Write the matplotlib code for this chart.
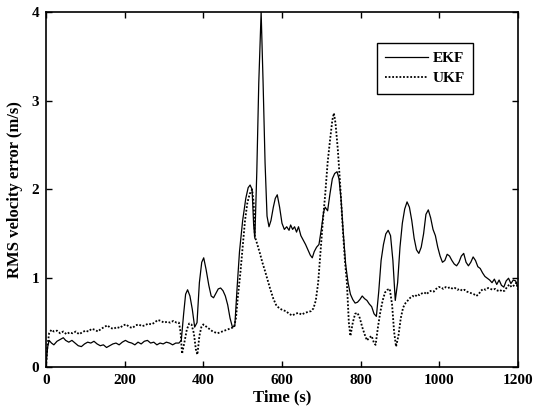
import numpy as np
import matplotlib
matplotlib.use('Agg')
import matplotlib.pyplot as plt

# values
ekf_t = [0, 4, 8, 14, 20, 28, 36, 44, 50, 58, 66, 74, 82, 90, 98, 106, 114, 122, 130, 138,
         146, 154, 162, 170, 178, 186, 194, 202, 210, 218, 226, 234, 242, 250, 258, 266, 274,
         282, 290, 298, 306, 314, 322, 330, 338, 344, 350, 355, 360, 366, 372, 378, 384, 390,
         396, 401, 407, 414, 420, 426, 432, 438, 444, 450, 456, 462, 468, 474, 480, 486, 492,
         500, 508, 514, 519, 524, 528, 531, 536, 541, 547, 552, 557, 562, 567, 572, 578, 583,
         588, 594, 600, 606, 612, 618, 622, 627, 632, 637, 642, 648, 654, 660, 666, 672, 677,
         682, 688, 694, 700, 706, 710, 716, 722, 728, 734, 740, 745, 750, 756, 762, 768, 774,
         780, 786, 792, 798, 804, 810, 816, 822, 828, 834, 840, 846, 852, 858, 864, 870, 876,
         882, 888, 894, 900, 906, 912, 918, 924, 930, 936, 942, 948, 954, 960, 966, 972, 978,
         984, 990, 996, 1002, 1008, 1014, 1020, 1026, 1032, 1038, 1044, 1050, 1056, 1062, 1068,
         1074, 1080, 1086, 1092, 1098, 1104, 1110, 1116, 1122, 1128, 1134, 1140, 1146, 1152,
         1158, 1164, 1170, 1176, 1182, 1188, 1194, 1200]
ekf_rms = [0.0, 0.22, 0.3, 0.27, 0.25, 0.29, 0.31, 0.33, 0.3, 0.28, 0.3, 0.27, 0.24, 0.23, 0.26,
           0.28, 0.27, 0.29, 0.26, 0.24, 0.25, 0.22, 0.24, 0.26, 0.27, 0.25, 0.28, 0.3, 0.28,
           0.27, 0.25, 0.28, 0.26, 0.29, 0.3, 0.27, 0.28, 0.25, 0.27, 0.26, 0.28, 0.27, 0.25,
           0.27, 0.27, 0.3, 0.6, 0.82, 0.87, 0.8, 0.65, 0.45, 0.5, 0.95, 1.18, 1.23, 1.1, 0.92,
           0.8, 0.78, 0.83, 0.88, 0.89, 0.86, 0.8, 0.7, 0.55, 0.45, 0.46, 0.9, 1.3, 1.65, 1.9,
           2.02, 2.05, 2.0, 1.6, 1.45, 2.2, 3.2, 4.0, 3.2, 2.3, 1.7, 1.58, 1.65, 1.8, 1.9, 1.94,
           1.8, 1.62, 1.55, 1.58, 1.54, 1.6, 1.55, 1.58, 1.52, 1.58, 1.48, 1.43, 1.38, 1.32,
           1.26, 1.23, 1.3, 1.35, 1.38, 1.55, 1.75, 1.8, 1.76, 1.95, 2.12, 2.18, 2.2, 2.12, 1.9,
           1.5, 1.15, 0.95, 0.82, 0.76, 0.72, 0.73, 0.76, 0.8, 0.77, 0.75, 0.71, 0.68, 0.6, 0.57,
           0.85, 1.2, 1.38, 1.5, 1.54, 1.48, 1.2, 0.75, 0.95, 1.35, 1.62, 1.78, 1.86, 1.8, 1.65,
           1.45, 1.32, 1.28, 1.35, 1.5, 1.72, 1.77, 1.68, 1.55, 1.48, 1.35, 1.25, 1.18, 1.2,
           1.27, 1.25, 1.2, 1.16, 1.14, 1.18, 1.25, 1.28, 1.18, 1.14, 1.18, 1.24, 1.2, 1.13,
           1.11, 1.06, 1.02, 1.0, 0.98, 0.95, 0.99, 0.93, 0.98, 0.92, 0.9, 0.97, 1.0, 0.94,
           0.98, 0.97, 0.9]

ukf_t = [0, 4, 8, 14, 20, 28, 36, 44, 52, 60, 68, 76, 84, 92, 100, 108, 116, 124, 132, 140,
         148, 156, 164, 172, 180, 188, 196, 204, 212, 220, 228, 236, 244, 252, 260, 268, 276,
         284, 292, 300, 308, 316, 324, 332, 338, 342, 346, 352, 358, 364, 370, 376, 381, 385,
         390, 395, 400, 406, 412, 418, 424, 430, 436, 442, 448, 454, 460, 466, 472, 478, 483,
         488, 494, 500, 506, 512, 518, 524, 528, 531, 536, 544, 550, 557, 564, 570, 578, 586,
         594, 602, 610, 618, 626, 634, 642, 650, 658, 666, 674, 680, 686, 692, 698, 704, 710,
         716, 722, 728, 732, 736, 742, 748, 754, 760, 765, 770, 774, 780, 786, 792, 798, 804,
         810, 816, 822, 828, 834, 838, 844, 850, 856, 862, 868, 874, 880, 885, 890, 896, 902,
         908, 914, 920, 926, 932, 938, 944, 950, 956, 962, 968, 974, 980, 986, 992, 998, 1004,
         1010, 1016, 1022, 1028, 1034, 1040, 1046, 1052, 1058, 1064, 1070, 1076, 1082, 1088,
         1094, 1100, 1106, 1112, 1118, 1124, 1130, 1136, 1142, 1148, 1154, 1160, 1166, 1172,
         1178, 1184, 1190, 1196, 1200]
ukf_rms = [0.0, 0.25, 0.38, 0.42, 0.4, 0.41, 0.38, 0.4, 0.37, 0.39, 0.38, 0.4, 0.37, 0.39,
           0.41, 0.4, 0.43, 0.42, 0.4, 0.43, 0.45, 0.47, 0.44, 0.43, 0.45, 0.44, 0.47, 0.48,
           0.45, 0.44, 0.47, 0.48, 0.46, 0.47, 0.49, 0.48, 0.5, 0.53, 0.52, 0.5, 0.51, 0.5,
           0.52, 0.5, 0.5, 0.4, 0.15, 0.28, 0.42, 0.49, 0.48, 0.38, 0.2, 0.14, 0.35, 0.45, 0.48,
           0.46, 0.44, 0.42, 0.4, 0.39, 0.38, 0.39, 0.4, 0.41, 0.42, 0.43, 0.44, 0.45, 0.55,
           0.8, 1.05, 1.35, 1.65, 1.85, 1.95, 2.0, 1.85, 1.47, 1.4, 1.28, 1.18, 1.08, 0.97, 0.88,
           0.77, 0.69, 0.66, 0.64, 0.63, 0.6, 0.58, 0.6, 0.61, 0.59, 0.61, 0.62, 0.63, 0.66,
           0.75, 0.95, 1.3, 1.65, 1.95, 2.3, 2.55, 2.78, 2.86, 2.75, 2.45, 2.05, 1.6, 1.2, 0.95,
           0.5, 0.35, 0.5, 0.6, 0.61, 0.55, 0.45, 0.37, 0.3, 0.33, 0.35, 0.27, 0.25, 0.45, 0.62,
           0.75, 0.84, 0.87, 0.88, 0.7, 0.4, 0.23, 0.35, 0.55, 0.67, 0.72, 0.75, 0.78, 0.8,
           0.79, 0.82, 0.81, 0.83, 0.84, 0.82, 0.85, 0.86, 0.85, 0.88, 0.9, 0.9, 0.88, 0.9,
           0.89, 0.9, 0.88, 0.89, 0.87, 0.88, 0.86, 0.87, 0.85, 0.84, 0.83, 0.82, 0.8, 0.82,
           0.86, 0.88, 0.87, 0.89, 0.88, 0.87, 0.88, 0.86, 0.87, 0.85, 0.86, 0.9, 0.93, 0.9,
           0.92, 0.95, 0.87]

x_ticks = [0, 200, 400, 600, 800, 1000, 1200]
y_ticks = [0, 1, 2, 3, 4]


def main():
    plt.rcParams['font.family'] = ['Liberation Serif', 'DejaVu Serif']
    fig = plt.figure(figsize=(5.39, 4.11), dpi=100)
    ax = fig.add_axes([0.0853, 0.107, 0.8757, 0.864])

    ax.plot(ekf_t, ekf_rms, color='black', lw=0.9, ls='-', label='EKF')
    ax.plot(ukf_t, ukf_rms, color='black', lw=1.3, ls=(0, (1, 1)), label='UKF')

    ax.set_xlim(0, 1200)
    ax.set_ylim(0, 4)
    ax.set_xticks(x_ticks)
    ax.set_yticks(y_ticks)
    ax.tick_params(direction='in', top=True, right=True, length=4, width=1,
                   labelsize=11, pad=5)
    for lbl in ax.get_xticklabels() + ax.get_yticklabels():
        lbl.set_fontweight('bold')
    for sp in ax.spines.values():
        sp.set_linewidth(1.2)

    ax.set_xlabel('Time (s)', fontsize=12, fontweight='bold', labelpad=2)
    ax.set_ylabel('RMS velocity error (m/s)', fontsize=12, fontweight='bold', labelpad=6)

    leg = ax.legend(loc='upper right', bbox_to_anchor=(0.905, 0.913), borderaxespad=0,
                    fancybox=False, framealpha=1, edgecolor='black', handlelength=2.8,
                    handletextpad=0.3, prop={'size': 11, 'weight': 'bold'},
                    borderpad=0.55, labelspacing=0.45)
    leg.get_frame().set_linewidth(1.0)

    fig.savefig('out.png', dpi=100)


if __name__ == '__main__':
    main()
